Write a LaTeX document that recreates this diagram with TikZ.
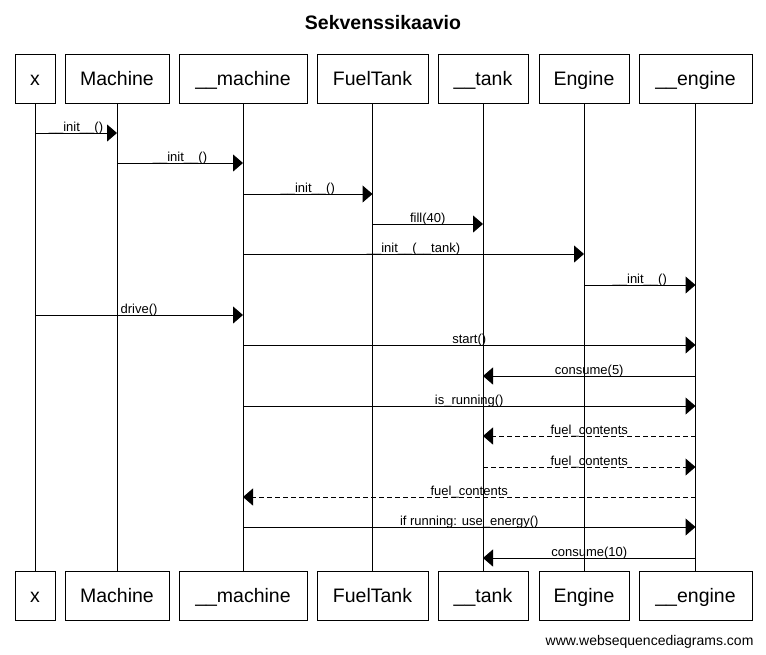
\documentclass[tikz,border=0pt]{standalone}
\usepackage{fontspec}
\setmainfont{Liberation Sans}
\usepackage{tikz}
\usetikzlibrary{arrows.meta}

\tikzset{
  actor/.style={draw, line width=1pt, minimum height=49pt, text height=14pt, text depth=0pt,
    inner xsep=0pt, font=\fontsize{19.5}{22}\selectfont},
  call/.style={line width=1pt, -{Triangle[length=10pt,width=17pt]}},
  reply/.style={call, dash pattern=on 5pt off 3pt},
  lbl/.style={anchor=base, yshift=2pt, inner sep=0pt, font=\fontsize{13}{15}\selectfont}
}

\begin{document}
\begin{tikzpicture}[x=1pt, y=-1pt]
  \useasboundingbox (0,0) rectangle (766,654);
  \node[anchor=base, font=\bfseries\fontsize{19.5}{22}\selectfont] (title) at (383,29) {Sekvenssikaavio};
  % participants and lifelines
  \foreach \n/\t/\x/\w in {x/x/35/40, Machine/Machine/117/104, machine/\_\_machine/243/128,
      FuelTank/FuelTank/372.5/111, tank/\_\_tank/483/90, Engine/Engine/584/90, engine/\_\_engine/695.5/113}{
    \node[actor, minimum width=\w] (\n-top) at (\x,78.5) {\t};
    \node[actor, minimum width=\w] (\n-bot) at (\x,595.5) {\t};
    \draw[line width=1pt] (\n-top) -- (\n-bot);
  }
  % messages
  \foreach \a/\b/\y/\s/\t in {
      x/Machine/133/call/\_\_init\_\_(),
      Machine/machine/163/call/\_\_init\_\_(),
      machine/FuelTank/194/call/\_\_init\_\_(),
      FuelTank/tank/224/call/fill(40),
      machine/Engine/254/call/\_\_init\_\_(\_\_tank),
      Engine/engine/285/call/\_\_init\_\_(),
      x/machine/315/call/drive(),
      machine/engine/345/call/start(),
      engine/tank/376/call/consume(5),
      machine/engine/406/call/is\_running(),
      engine/tank/436/reply/fuel\_contents,
      tank/engine/467/reply/fuel\_contents,
      engine/machine/497/reply/fuel\_contents,
      machine/engine/527/call/if running: use\_energy(),
      engine/tank/558/call/consume(10)}
    \draw[\s] (\a-top |- 0,\y) -- (\b-top |- 0,\y) node[lbl, midway] {\t};
  \node[anchor=base east, font=\fontsize{14}{16}\selectfont] (footer) at (757,645) {www.websequencediagrams.com};
\end{tikzpicture}
\end{document}
